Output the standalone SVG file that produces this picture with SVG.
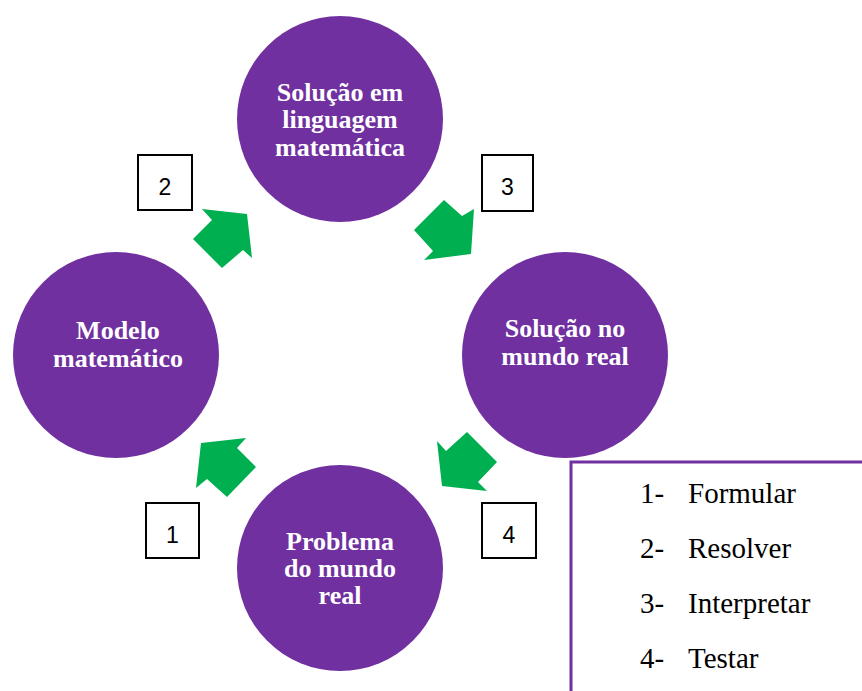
<svg xmlns="http://www.w3.org/2000/svg" width="862" height="691" viewBox="0 0 862 691">
<style>
.node circle{fill:#7030A0}
.nt{font-family:'Liberation Serif',serif;font-weight:bold;font-size:26px;fill:#fff;text-anchor:middle}
.arr{fill:#00B050}
.box rect{fill:#fff;stroke:#000;stroke-width:2}
.num{font-family:'Liberation Sans',sans-serif;font-size:23px;fill:#000;text-anchor:middle}
.leg{font-family:'Liberation Serif',serif;font-size:29px;fill:#000}
</style>
<rect width="862" height="691" fill="#fff"/>
<g id="node-top" class="node">
<circle cx="340" cy="119" r="103"/>
<text class="nt" x="340" y="101">Solução em</text>
<text class="nt" x="340" y="128">linguagem</text>
<text class="nt" x="340" y="156">matemática</text>
</g>
<g id="node-left" class="node">
<circle cx="116" cy="355" r="103"/>
<text class="nt" x="118" y="339">Modelo</text>
<text class="nt" x="118" y="367">matemático</text>
</g>
<g id="node-right" class="node">
<circle cx="565" cy="355" r="103"/>
<text class="nt" x="565" y="337">Solução no</text>
<text class="nt" x="565" y="365">mundo real</text>
</g>
<g id="node-bottom" class="node">
<circle cx="340" cy="568" r="103"/>
<text class="nt" x="340" y="550">Problema</text>
<text class="nt" x="340" y="577">do mundo</text>
<text class="nt" x="340" y="604">real</text>
</g>
<g id="connectors">
<polygon class="arr" points="201,443 246,438 237,448 256,467 227,497 207,479 196,488"/>
<polygon class="arr" points="202,209 247,214 252,258 243,250 222,268 193,239 212,220"/>
<polygon class="arr" points="444,200 462,216 474,209 471,254 424,260 433,251 414,230"/>
<polygon class="arr" points="467,432 497,462 478,482 487,491 442,486 437,441 446,451"/>
</g>
<g id="label-1" class="box">
<rect x="146" y="503" width="53" height="55"/>
<text class="num" x="172.5" y="543">1</text>
</g>
<g id="label-2" class="box">
<rect x="138" y="155" width="54" height="55"/>
<text class="num" x="165" y="195">2</text>
</g>
<g id="label-3" class="box">
<rect x="482" y="155" width="51" height="56"/>
<text class="num" x="507.5" y="195">3</text>
</g>
<g id="label-4" class="box">
<rect x="482" y="503" width="54" height="55"/>
<text class="num" x="509" y="543">4</text>
</g>
<g id="legend">
<rect x="571" y="462" width="300" height="240" fill="#fff" stroke="#7030A0" stroke-width="3"/>
<text class="leg" x="640" y="503">1-</text><text class="leg" x="688" y="503">Formular</text>
<text class="leg" x="640" y="558">2-</text><text class="leg" x="688" y="558">Resolver</text>
<text class="leg" x="640" y="613">3-</text><text class="leg" x="688" y="613">Interpretar</text>
<text class="leg" x="640" y="668">4-</text><text class="leg" x="688" y="668">Testar</text>
</g>
</svg>
